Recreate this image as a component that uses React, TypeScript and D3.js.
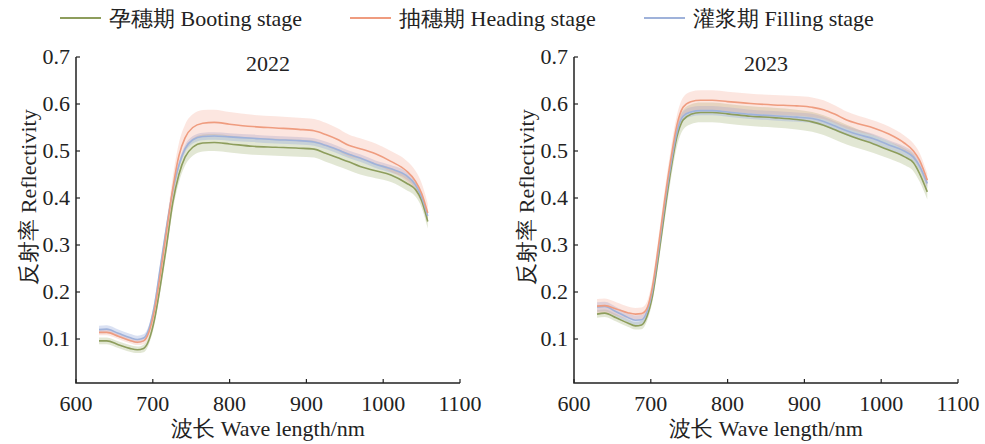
import React from 'react';
import * as d3 from 'd3';

// wavelength grid (nm)
const wl = [630, 640, 655, 670, 680, 688, 695, 702, 710, 718, 726, 734, 742, 752, 765, 780, 800, 830, 860, 890, 910, 925, 940, 955, 970, 990, 1010, 1030, 1042, 1050, 1058];

// 2022 mean reflectivity
const boot2022 = [0.096, 0.096, 0.088, 0.080, 0.077, 0.080, 0.098, 0.140, 0.215, 0.300, 0.390, 0.450, 0.487, 0.508, 0.517, 0.518, 0.515, 0.510, 0.508, 0.506, 0.504, 0.495, 0.486, 0.477, 0.467, 0.458, 0.449, 0.432, 0.418, 0.395, 0.350];
const head2022 = [0.114, 0.114, 0.106, 0.097, 0.093, 0.096, 0.115, 0.160, 0.240, 0.330, 0.420, 0.490, 0.528, 0.550, 0.559, 0.561, 0.557, 0.552, 0.549, 0.546, 0.543, 0.535, 0.525, 0.512, 0.505, 0.494, 0.478, 0.458, 0.436, 0.410, 0.368];
const fill2022 = [0.120, 0.121, 0.112, 0.103, 0.099, 0.102, 0.122, 0.170, 0.255, 0.340, 0.415, 0.470, 0.505, 0.524, 0.531, 0.532, 0.530, 0.527, 0.524, 0.522, 0.519, 0.512, 0.503, 0.493, 0.485, 0.472, 0.462, 0.448, 0.428, 0.402, 0.362];

// 2022 spread (std)
const bootSd2022 = [0.007, 0.007, 0.007, 0.007, 0.007, 0.008, 0.009, 0.011, 0.013, 0.015, 0.016, 0.017, 0.018, 0.018, 0.018, 0.018, 0.018, 0.018, 0.018, 0.018, 0.018, 0.018, 0.018, 0.018, 0.017, 0.016, 0.015, 0.015, 0.015, 0.015, 0.015];
const headSd2022 = [0.006, 0.006, 0.006, 0.006, 0.006, 0.007, 0.009, 0.012, 0.016, 0.020, 0.024, 0.027, 0.028, 0.028, 0.028, 0.027, 0.026, 0.025, 0.025, 0.025, 0.025, 0.025, 0.024, 0.023, 0.022, 0.022, 0.022, 0.022, 0.022, 0.022, 0.020];
const fillSd2022 = [0.008, 0.008, 0.008, 0.008, 0.008, 0.008, 0.008, 0.008, 0.008, 0.008, 0.008, 0.008, 0.008, 0.008, 0.008, 0.008, 0.008, 0.008, 0.008, 0.008, 0.008, 0.008, 0.008, 0.008, 0.008, 0.008, 0.008, 0.008, 0.008, 0.008, 0.008];

// 2023 mean reflectivity
const wl23 = [630, 640, 655, 670, 680, 688, 695, 702, 710, 718, 726, 734, 742, 752, 765, 780, 800, 830, 860, 890, 910, 925, 940, 955, 970, 990, 1010, 1030, 1042, 1050, 1060];
const boot2023 = [0.153, 0.155, 0.145, 0.134, 0.128, 0.130, 0.148, 0.190, 0.275, 0.370, 0.458, 0.530, 0.566, 0.578, 0.582, 0.582, 0.579, 0.574, 0.571, 0.567, 0.562, 0.555, 0.545, 0.535, 0.526, 0.515, 0.502, 0.488, 0.475, 0.452, 0.413];
const head2023 = [0.170, 0.171, 0.164, 0.156, 0.153, 0.154, 0.165, 0.210, 0.298, 0.395, 0.482, 0.555, 0.593, 0.605, 0.608, 0.608, 0.605, 0.601, 0.598, 0.596, 0.593, 0.588, 0.578, 0.566, 0.558, 0.549, 0.536, 0.517, 0.500, 0.480, 0.438];
const fill2023 = [0.168, 0.169, 0.158, 0.146, 0.140, 0.141, 0.158, 0.202, 0.288, 0.385, 0.470, 0.540, 0.574, 0.583, 0.586, 0.586, 0.583, 0.578, 0.575, 0.572, 0.569, 0.563, 0.553, 0.543, 0.535, 0.526, 0.513, 0.500, 0.487, 0.468, 0.431];

const bootSd2023 = [0.008, 0.008, 0.008, 0.008, 0.008, 0.009, 0.010, 0.012, 0.015, 0.018, 0.020, 0.021, 0.021, 0.021, 0.021, 0.021, 0.021, 0.021, 0.021, 0.021, 0.021, 0.021, 0.021, 0.021, 0.020, 0.019, 0.018, 0.018, 0.018, 0.017, 0.016];
const headSd2023 = [0.015, 0.015, 0.014, 0.013, 0.013, 0.013, 0.014, 0.016, 0.018, 0.020, 0.021, 0.021, 0.021, 0.021, 0.021, 0.021, 0.021, 0.021, 0.021, 0.021, 0.021, 0.020, 0.019, 0.018, 0.017, 0.016, 0.016, 0.016, 0.016, 0.016, 0.014];
const fillSd2023 = [0.010, 0.010, 0.010, 0.010, 0.010, 0.010, 0.010, 0.010, 0.010, 0.010, 0.010, 0.010, 0.010, 0.010, 0.010, 0.010, 0.010, 0.010, 0.010, 0.010, 0.010, 0.010, 0.010, 0.010, 0.010, 0.010, 0.010, 0.010, 0.010, 0.010, 0.010];

const xTicks = [600, 700, 800, 900, 1000, 1100];
const yTicks = [0.1, 0.2, 0.3, 0.4, 0.5, 0.6, 0.7];

const stages = ['孕穗期 Booting stage', '抽穗期 Heading stage', '灌浆期 Filling stage'];
const lineColors = ['#8d9d5c', '#ef9c7f', '#9fb2da'];
const bandColors = ['rgba(150,170,100,0.28)', 'rgba(245,160,135,0.26)', 'rgba(150,170,220,0.35)'];

const font = '"Liberation Serif", "Times New Roman", serif';
const fs = 22;

const panels = [
  { year: '2022', left: 76, wl: wl, means: [boot2022, head2022, fill2022], sds: [bootSd2022, headSd2022, fillSd2022] },
  { year: '2023', left: 574, wl: wl23, means: [boot2023, head2023, fill2023], sds: [bootSd2023, headSd2023, fillSd2023] },
];

const Panel = ({ p }) => {
  const top = 57;
  const bottom = 383;
  const w = 384;
  const x = d3.scaleLinear().domain([600, 1100]).range([p.left, p.left + w]);
  const y = d3.scaleLinear().domain([0, 0.7]).range([386, top]);

  const line = d3
    .line<number>()
    .x((d, i) => x(p.wl[i]))
    .y((d) => y(d))
    .curve(d3.curveMonotoneX);

  const band = (m, s) =>
    d3
      .area<number>()
      .x((d, i) => x(p.wl[i]))
      .y0((d, i) => y(d - s[i]))
      .y1((d, i) => y(d + s[i]))
      .curve(d3.curveMonotoneX)(m);

  // draw order: boot, filling, heading on top
  const order = [0, 2, 1];

  return (
    <g>
      {order.map((k) => (
        <path key={'b' + k} d={band(p.means[k], p.sds[k])} fill={bandColors[k]} stroke="none" />
      ))}
      {order.map((k) => (
        <path key={'l' + k} d={line(p.means[k])} fill="none" stroke={lineColors[k]} strokeWidth={1.6} />
      ))}

      {/* axes */}
      <path d={`M${p.left},${top} V${bottom} H${p.left + w}`} fill="none" stroke="#222" strokeWidth={1.5} />
      {xTicks.map((t) => (
        <g key={t}>
          <line x1={x(t)} x2={x(t)} y1={bottom} y2={bottom - 4} stroke="#222" strokeWidth={1.2} />
          <text x={x(t)} y={411} textAnchor="middle" fontSize={fs} fontFamily={font} fill="#222">
            {t}
          </text>
        </g>
      ))}
      {yTicks.map((t) => (
        <g key={t}>
          <line x1={p.left} x2={p.left + 4} y1={y(t)} y2={y(t)} stroke="#222" strokeWidth={1.2} />
          <text x={p.left - 6} y={y(t) + 7} textAnchor="end" fontSize={fs} fontFamily={font} fill="#222">
            {t.toFixed(1)}
          </text>
        </g>
      ))}
      <text x={p.left + 192} y={71} textAnchor="middle" fontSize={fs} fontFamily={font} fill="#222">
        {p.year}
      </text>
      <text x={p.left + 192} y={436} textAnchor="middle" fontSize={fs} fontFamily={font} fill="#222">
        波长 Wave length/nm
      </text>
      <text
        transform={`translate(${p.left - 40},197) rotate(-90)`}
        textAnchor="middle"
        fontSize={fs}
        fontFamily={font}
        fill="#222"
      >
        反射率 Reflectivity
      </text>
    </g>
  );
};

const legendX = [60, 350, 644];

export default function App() {
  return (
    <svg width={985} height={444} style={{ position: 'absolute', left: 0, top: 0, background: '#fff' }}>
      {stages.map((s, i) => (
        <g key={s}>
          <line x1={legendX[i]} x2={legendX[i] + 41} y1={18} y2={18} stroke={lineColors[i]} strokeWidth={2} />
          <text x={legendX[i] + 49} y={26} fontSize={fs} fontFamily={font} fill="#222">
            {s}
          </text>
        </g>
      ))}
      {panels.map((p) => (
        <Panel key={p.year} p={p} />
      ))}
    </svg>
  );
}
